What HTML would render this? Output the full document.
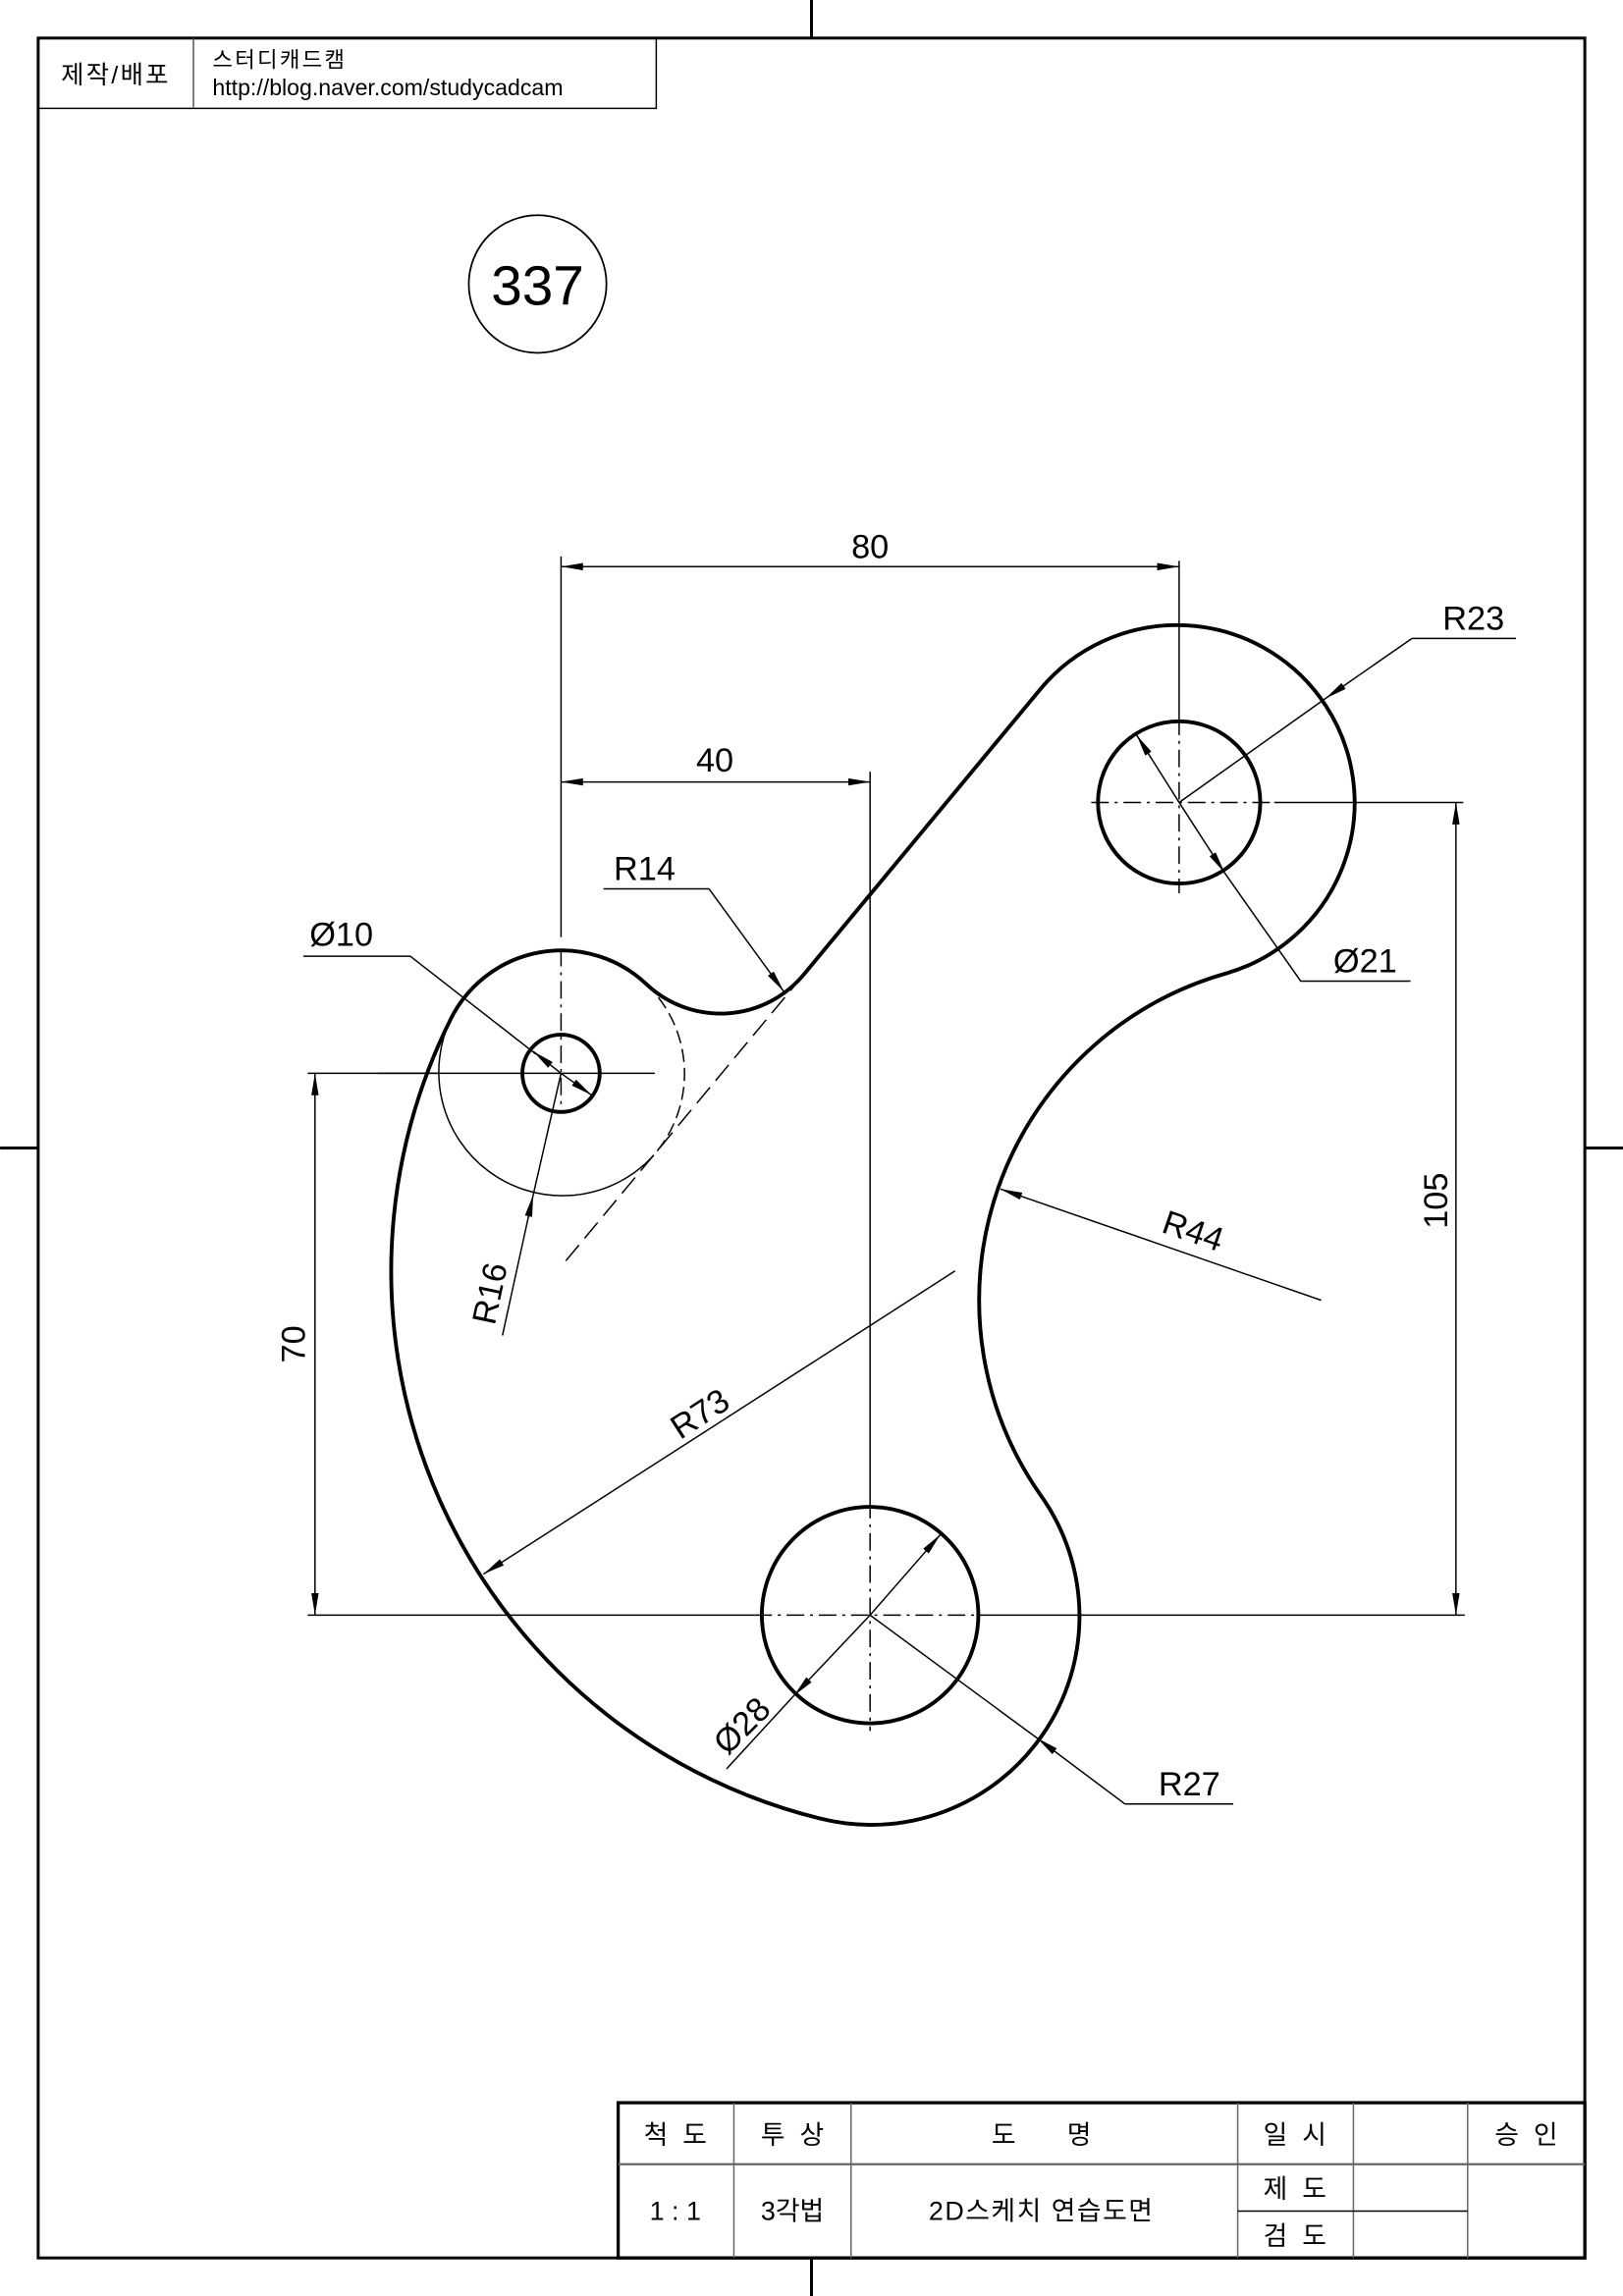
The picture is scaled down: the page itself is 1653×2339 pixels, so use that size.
<!DOCTYPE html>
<html><head><meta charset="utf-8"><style>
html,body{margin:0;padding:0;background:#fff}
svg{display:block}
text{font-family:"Liberation Sans","Noto Sans CJK KR",sans-serif;fill:#000}
</style></head><body>
<svg width="1653" height="2339" viewBox="0 0 1108 1568" xmlns="http://www.w3.org/2000/svg">
<defs>
<marker id="ar" viewBox="0 0 15 5" refX="15" refY="2.5" markerWidth="15" markerHeight="5" markerUnits="userSpaceOnUse" orient="auto-start-reverse">
<path d="M0,0 L15,2.5 L0,5 Z" fill="#000"/>
</marker>
</defs>
<rect width="1108" height="1568" fill="#fff"/>
<rect x="26" y="26" width="1056" height="1516" fill="none" stroke="#000" stroke-width="2"/>
<line x1="554" y1="0" x2="554" y2="26" stroke="#000" stroke-width="2"/>
<line x1="554" y1="1542" x2="554" y2="1568" stroke="#000" stroke-width="2"/>
<line x1="0" y1="784" x2="26" y2="784" stroke="#000" stroke-width="2"/>
<line x1="1082" y1="784" x2="1108" y2="784" stroke="#000" stroke-width="2"/>
<rect x="26" y="26" width="422" height="48" fill="none" stroke="#000" stroke-width="1"/>
<line x1="132" y1="26" x2="132" y2="74" stroke="#555" stroke-width="1"/>
<text x="79" y="57" font-size="17" text-anchor="middle" letter-spacing="1.5">제작/배포</text>
<text x="145" y="46" font-size="15" letter-spacing="1.5">스터디캐드캠</text>
<text x="145" y="65" font-size="15.5">http://blog.naver.com/studycadcam</text>
<circle cx="367" cy="194" r="47" fill="none" stroke="#000" stroke-width="1.2"/>
<text x="367" y="208" font-size="38" text-anchor="middle">337</text>

<g fill="none" stroke="#000">
<path d="M440.6,794.7 A84.4,84.4 0 0 1 308,695.3" stroke-width="1"/>
<path d="M440.7,671.6 A84.4,84.4 0 0 1 440.6,794.7" stroke-width="1" stroke-dasharray="9,4"/>
<line x1="548.6" y1="665.7" x2="383" y2="865" stroke-width="1" stroke-dasharray="14,6"/>
<path d="M308,695.3 A84.4,84.4 0 0 1 440.7,671.6 A73.9,73.9 0 0 0 548.6,665.7 L710.8,470 A121.3,121.3 0 1 1 838,664.5 A232,232 0 0 0 710.6,1021.3 A142.4,142.4 0 0 1 559.7,1241.9 A385,385 0 0 1 308,695.3 Z" stroke-width="2.6"/>
<circle cx="383" cy="733" r="26.4" stroke-width="2.6"/>
<circle cx="805" cy="548" r="55.4" stroke-width="2.6"/>
<circle cx="594" cy="1103" r="73.9" stroke-width="2.6"/>

<g stroke-width="1">
<line x1="258" y1="733" x2="447" y2="733"/>
<line x1="383" y1="380" x2="383" y2="640"/>
<line x1="383" y1="648" x2="383" y2="760" stroke-dasharray="12,4,2,4"/>
<line x1="745" y1="548" x2="870" y2="548" stroke-dasharray="12,4,2,4"/>
<line x1="870" y1="548" x2="999" y2="548"/>
<line x1="805" y1="383" x2="805" y2="490"/>
<line x1="805" y1="490" x2="805" y2="610" stroke-dasharray="12,4,2,4"/>
<line x1="210" y1="1103" x2="515" y2="1103"/>
<line x1="515" y1="1103" x2="675" y2="1103" stroke-dasharray="12,4,2,4"/>
<line x1="675" y1="1103" x2="1000" y2="1103"/>
<line x1="594" y1="527" x2="594" y2="1025"/>
<line x1="594" y1="1025" x2="594" y2="1182" stroke-dasharray="12,4,2,4"/>
<line x1="210" y1="733" x2="300" y2="733"/>

<line x1="383" y1="387" x2="805" y2="387" marker-start="url(#ar)" marker-end="url(#ar)"/>
<line x1="383" y1="534" x2="594" y2="534" marker-start="url(#ar)" marker-end="url(#ar)"/>
<line x1="215" y1="733" x2="215" y2="1103" marker-start="url(#ar)" marker-end="url(#ar)"/>
<line x1="994" y1="548" x2="994" y2="1103" marker-start="url(#ar)" marker-end="url(#ar)"/>
<line x1="1035" y1="436" x2="964" y2="436"/>
<line x1="964" y1="436" x2="905" y2="477" marker-end="url(#ar)"/>
<line x1="905" y1="477" x2="805" y2="548"/>
<line x1="805" y1="548" x2="776" y2="502" marker-end="url(#ar)"/>
<line x1="805" y1="548" x2="836" y2="596" marker-end="url(#ar)"/>
<polyline points="836,596 888,670 963,670"/>
<polyline points="207,653 280,653 366,720"/>
<line x1="383" y1="733" x2="364" y2="718" marker-end="url(#ar)"/>
<line x1="383" y1="733" x2="404" y2="748" marker-end="url(#ar)"/>
<line x1="412" y1="607" x2="484" y2="607"/>
<line x1="484" y1="607" x2="535" y2="677" marker-end="url(#ar)"/>
<line x1="343" y1="912" x2="364" y2="816" marker-end="url(#ar)"/>
<line x1="364" y1="816" x2="383" y2="733"/>
<line x1="652" y1="868" x2="330" y2="1075" marker-end="url(#ar)"/>
<line x1="902" y1="888" x2="683" y2="812" marker-end="url(#ar)"/>
<line x1="594" y1="1103" x2="642" y2="1048" marker-end="url(#ar)"/>
<line x1="594" y1="1103" x2="542" y2="1158" marker-end="url(#ar)"/>
<line x1="542" y1="1158" x2="496" y2="1208"/>
<line x1="768" y1="1232" x2="708" y2="1187" marker-end="url(#ar)"/>
<line x1="708" y1="1187" x2="594" y2="1103"/>
<line x1="768" y1="1232" x2="842" y2="1232"/>
</g>
</g>

<g font-size="23">
<text x="594" y="381" text-anchor="middle">80</text>
<text x="488" y="527" text-anchor="middle">40</text>
<text x="1006" y="430" text-anchor="middle">R23</text>
<text x="932" y="664" text-anchor="middle">Ø21</text>
<text x="233" y="646" text-anchor="middle">Ø10</text>
<text x="440" y="601" text-anchor="middle">R14</text>
<text x="812" y="1226" text-anchor="middle">R27</text>
<text transform="translate(208,918) rotate(-90)" text-anchor="middle">70</text>
<text transform="translate(988,820) rotate(-90)" text-anchor="middle">105</text>
<text transform="translate(342,885) rotate(-78)" text-anchor="middle">R16</text>
<text transform="translate(482,972) rotate(-33)" text-anchor="middle">R73</text>
<text transform="translate(812,848) rotate(19)" text-anchor="middle">R44</text>
<text transform="translate(512,1184) rotate(-45)" text-anchor="middle">Ø28</text>
</g>

<g fill="none" stroke="#000">
<rect x="422" y="1436" width="660" height="106" stroke-width="2.2"/>
<g stroke-width="1" stroke="#666">
<line x1="501" y1="1436" x2="501" y2="1542"/>
<line x1="581" y1="1436" x2="581" y2="1542"/>
<line x1="845" y1="1436" x2="845" y2="1542"/>
<line x1="924" y1="1436" x2="924" y2="1542"/>
<line x1="1002" y1="1436" x2="1002" y2="1542"/>
<line x1="422" y1="1478" x2="1082" y2="1478" stroke-width="1.5"/>
<line x1="845" y1="1510" x2="1002" y2="1510" stroke="#000"/>
</g>
</g>
<g font-size="18" text-anchor="middle">
<text x="461" y="1464">척 &#160;도</text>
<text x="541" y="1464">투 &#160;상</text>
<text x="711" y="1464">도 &#160; &#160; &#160; 명</text>
<text x="884" y="1464">일 &#160;시</text>
<text x="1042" y="1464">승 &#160;인</text>
<text x="461" y="1516">1 : 1</text>
<text x="541" y="1516">3각법</text>
<text x="711" y="1516" letter-spacing="1">2D스케치 연습도면</text>
<text x="884" y="1501">제 &#160;도</text>
<text x="884" y="1533">검 &#160;도</text>
</g>
</svg>
</body></html>
